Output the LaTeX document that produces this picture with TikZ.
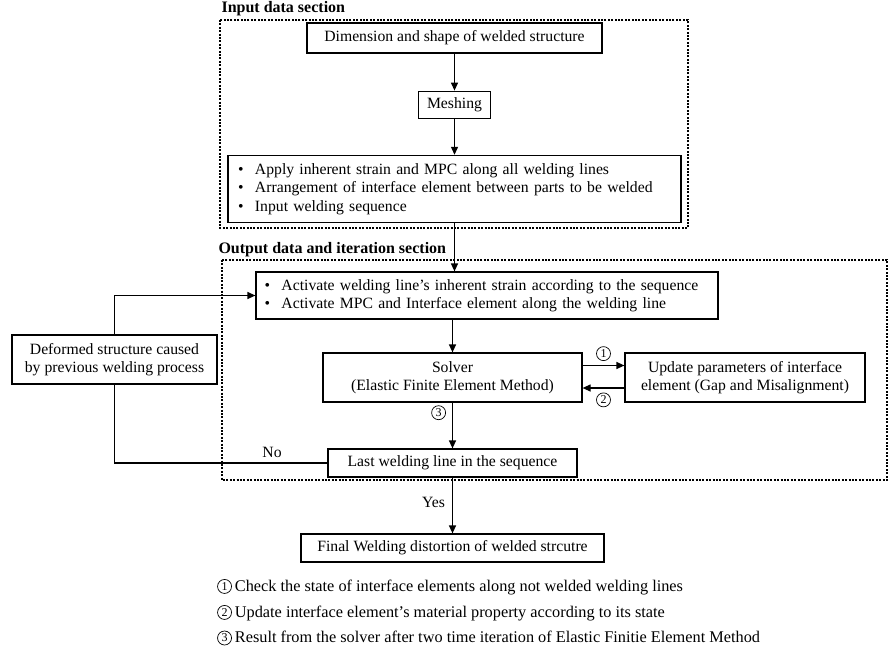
\documentclass[tikz,border=0pt]{standalone}
\usepackage{fontspec}
\setmainfont{Liberation Serif}
\usetikzlibrary{arrows.meta,positioning}
\newcommand{\cnum}[1]{\tikz[baseline={([yshift=-1pt]c.base)}]\node[circle,draw=black,line width=0.7pt,inner sep=0pt,minimum size=14pt,font=\fontsize{12}{12}\selectfont] (c) {#1};}
\newcommand{\bitem}{\makebox[17pt][l]{\textbullet}}

\begin{document}
\begin{tikzpicture}[x=1pt,y=-1pt,
      box_node/.style={
         draw=black,
         fill=white,
         line width=1.2pt,
         inner sep=0pt,
         align=center,
         font=\fontsize{15.7}{18.5}\selectfont},
      list_node/.style={
         box_node,
         align=left,
         inner xsep=10pt},
      section_box/.style={
         draw=black,
         line width=2pt,
         dash pattern=on 2pt off 1.4pt},
      section_title/.style={
         anchor=west,
         font=\bfseries\fontsize{16}{18}\selectfont},
      note_text/.style={
         anchor=west,
         inner sep=0pt,
         font=\fontsize{16.3}{18}\selectfont},
      label_text/.style={
         font=\fontsize{15.7}{18}\selectfont},
      arrow_black/.style={
         -{Triangle[length=8pt,width=7pt]},
         line width=1.2pt},
      line_black/.style={
         line width=1.2pt}
]
      \useasboundingbox (0,0) rectangle (889,654);

      %sections
      \draw[section_box] (220,20) rectangle (688,228);
      \draw[section_box] (222,260) rectangle (887,480);
      \node[section_title] (intitle) at (218,9) {Input data section};
      \node[section_title] (outtitle) at (215,250) {Output data and iteration section};

      %input data
      \node[box_node,minimum width=295pt,minimum height=30pt] (dim) at (454.5,38)
         {Dimension and shape of welded structure};
      \node[box_node,minimum width=72pt,minimum height=27pt,below=37pt of dim] (mesh) {Meshing};
      \node[list_node,text width=433pt,minimum height=67pt,below=36pt of mesh] (apply)
         {\bitem Apply inherent strain and MPC along all welding lines\\
          \bitem Arrangement of interface element between parts to be welded\\
          \bitem Input welding sequence};

      %output data and iteration
      \node[list_node,text width=445pt,inner xsep=8.5pt,minimum height=47pt] (activate) at (487,295.5)
         {\bitem Activate welding line’s inherent strain according to the sequence\\
          \bitem Activate MPC and Interface element along the welding line};
      \node[box_node,minimum width=205pt,minimum height=49pt] (deformed) at (114.5,359.5)
         {Deformed structure caused\\by previous welding process};
      \node[box_node,minimum width=259pt,minimum height=49pt] (solver) at (452.5,377.5)
         {Solver\\(Elastic Finite Element Method)};
      \node[box_node,minimum width=240pt,minimum height=49pt] (update) at (745,377.5)
         {Update parameters of interface\\element (Gap and Misalignment)};
      \node[box_node,minimum width=249pt,minimum height=28pt] (last) at (452.5,463)
         {Last welding line in the sequence};
      \node[box_node,minimum width=303pt,minimum height=28pt] (final) at (452.5,548)
         {Final Welding distortion of welded strcutre};

    \foreach \i/\j in {dim/mesh, mesh/apply, solver/last, last/final}
      \draw [arrow_black] (\i.south) -- (\j.north);
      \draw [arrow_black] (apply.south) -- (apply.south |- activate.north);
      \draw [arrow_black] (activate.south -| solver.north) -- (solver.north);
      \path (solver.south) -- node[pos=0.22,left=3pt] {\cnum{3}} (last.north);
      \path (last.south) -- node[pos=0.44,left=4pt,label_text] {Yes} (final.north);

      %iteration with interface elements
      \draw [arrow_black] ([yshift=12pt]solver.east) -- node[above=1pt] {\cnum{1}} ([yshift=12pt]solver.east -| update.west);
      \draw [arrow_black] ([yshift=-10.5pt]update.west) -- node[below=1pt] {\cnum{2}} ([yshift=-10.5pt]update.west -| solver.east);

      %loop back
      \draw [arrow_black] (deformed.north) |- (activate.west);
      \draw [line_black] (last.west) -| node[pos=0.13,above=1pt,label_text] {No} (deformed.south);

      %notes
      \node[note_text] (note1) at (217,587) {\cnum{1}\hspace{3pt}Check the state of interface elements along not welded welding lines};
      \node[note_text] (note2) at (217,613) {\cnum{2}\hspace{3pt}Update interface element’s material property according to its state};
      \node[note_text] (note3) at (217,638) {\cnum{3}\hspace{3pt}Result from the solver after two time iteration of Elastic Finitie Element Method};
\end{tikzpicture}
\end{document}
